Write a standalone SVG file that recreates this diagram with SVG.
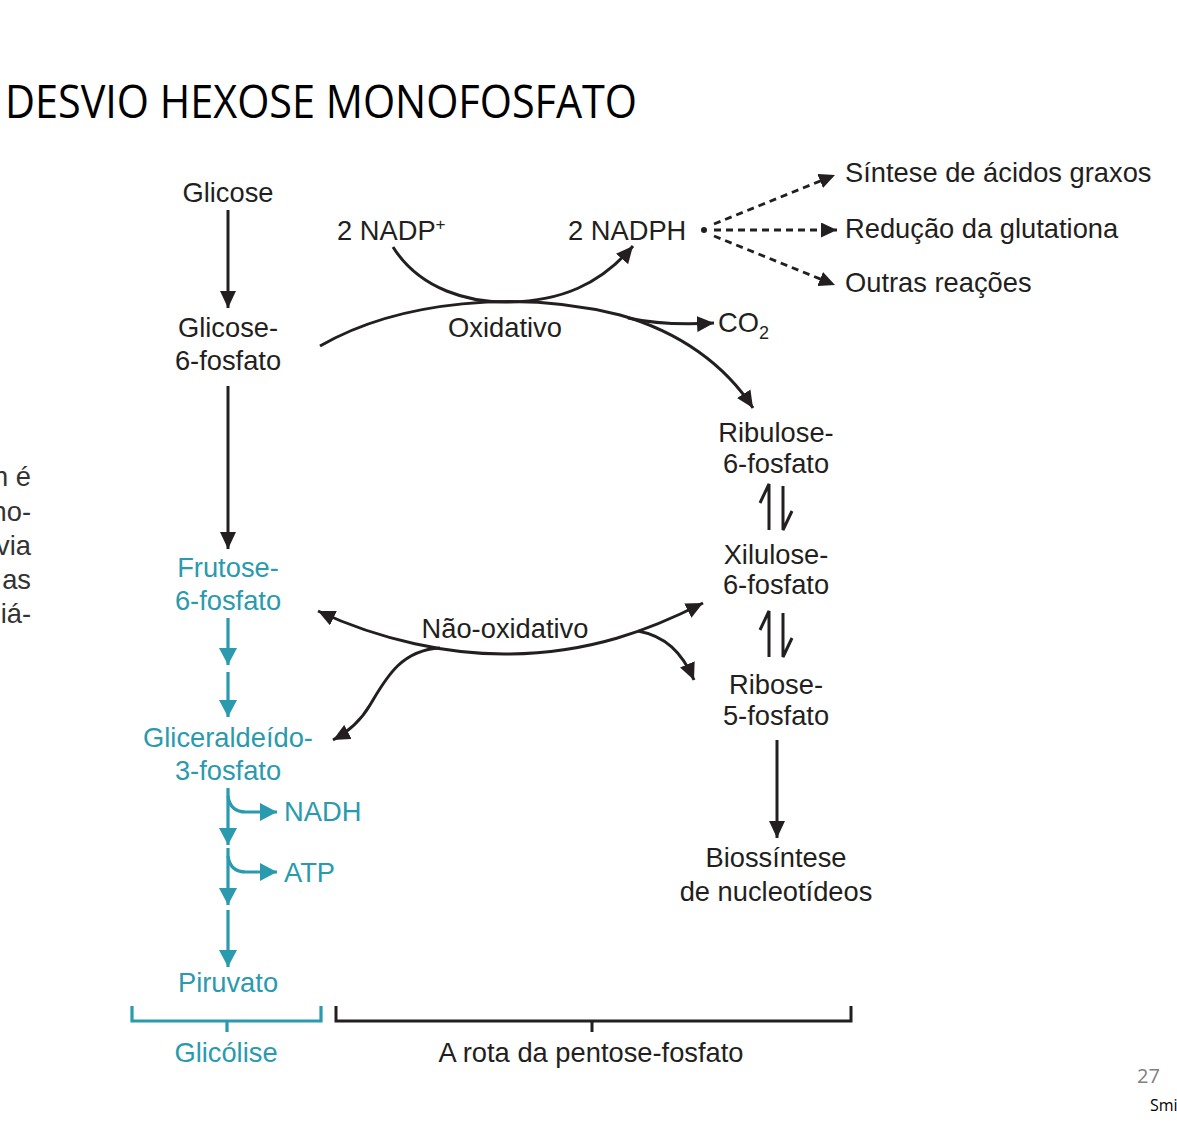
<svg xmlns="http://www.w3.org/2000/svg" width="1177" height="1137" viewBox="0 0 1177 1137">
<style>
text{font-family:"Liberation Sans",Arial,sans-serif;font-size:27.3px;fill:#231f20}
.t{fill:#2a9aae}
.c{text-anchor:middle}
.k{fill:none;stroke:#231f20;stroke-width:3}
.g{fill:none;stroke:#2a9aae;stroke-width:3.2}
.d{fill:none;stroke:#231f20;stroke-width:2.8;stroke-dasharray:7 5}
</style>
<defs>
<marker id="ab" markerUnits="userSpaceOnUse" markerWidth="18" markerHeight="16" refX="17" refY="8" orient="auto-start-reverse"><path d="M0,0 L17,8 L0,16 z" fill="#231f20"/></marker>
<marker id="ad" markerUnits="userSpaceOnUse" markerWidth="17" markerHeight="15" refX="16" refY="7.5" orient="auto"><path d="M0,0 L16,7.5 L0,15 z" fill="#231f20"/></marker>
<marker id="at" markerUnits="userSpaceOnUse" markerWidth="18" markerHeight="18" refX="17" refY="9" orient="auto"><path d="M0,0 L17,9 L0,18 z" fill="#2a9aae"/></marker>
</defs>
<rect width="1177" height="1137" fill="#fff"/>
<text x="5" y="118" textLength="632" lengthAdjust="spacingAndGlyphs" style="font-family:'Open Sans','Noto Sans',sans-serif;font-size:46px;fill:#000">DESVIO HEXOSE MONOFOSFATO</text>
<g id="sidetext" style="text-anchor:end">
<text x="31" y="486" style="fill:#333">n é</text>
<text x="31" y="521" style="fill:#333">no-</text>
<text x="31" y="555" style="fill:#333">via</text>
<text x="31" y="589" style="fill:#333">as</text>
<text x="31" y="623" style="fill:#333">iá-</text>
</g>
<g id="connectors">
<path class="k" d="M228,210 L228,308" marker-end="url(#ab)"/>
<path class="k" d="M228,386 L228,549" marker-end="url(#ab)"/>
<path class="k" d="M320,346 C400,300 520,290 620,315 C680,332 725,365 753,408" marker-end="url(#ab)"/>
<path class="k" d="M628,318 Q665,326 714,323" marker-end="url(#ab)"/>
<path class="k" d="M393,247 C420,290 470,303 510,302 C560,301 600,285 633,246" marker-end="url(#ab)"/>
<circle cx="704" cy="230" r="3" fill="#231f20"/>
<path class="d" d="M714,224 L835,175" marker-end="url(#ad)"/>
<path class="d" d="M714,230 L837,230" marker-end="url(#ad)"/>
<path class="d" d="M714,236 L835,285" marker-end="url(#ad)"/>
<path class="k" d="M318,611 C380,640 450,655 510,654 C590,653 650,630 703,603" marker-start="url(#ab)" marker-end="url(#ab)"/>
<path class="k" d="M440,648 C400,650 385,680 370,705 C360,722 348,732 333,740" marker-end="url(#ab)"/>
<path class="k" d="M638,631 C665,636 682,652 694,680" marker-end="url(#ab)"/>
<path class="k" d="M769,530 L769,484 L760,503" stroke-width="2.4"/>
<path class="k" d="M783,486 L783,530 L792,511" stroke-width="2.4"/>
<path class="k" d="M769,657 L769,611 L760,630" stroke-width="2.4"/>
<path class="k" d="M783,613 L783,657 L792,638" stroke-width="2.4"/>
<path class="k" d="M777,740 L777,838" marker-end="url(#ab)"/>
<path class="g" d="M228,618 L228,665" marker-end="url(#at)"/>
<path class="g" d="M228,672 L228,717" marker-end="url(#at)"/>
<path class="g" d="M228,788 L228,845" marker-end="url(#at)"/>
<path class="g" d="M228,796 Q230,812 246,812 L277,812" marker-end="url(#at)"/>
<path class="g" d="M228,848 L228,905" marker-end="url(#at)"/>
<path class="g" d="M228,856 Q230,872 246,872 L277,872" marker-end="url(#at)"/>
<path class="g" d="M228,910 L228,967" marker-end="url(#at)"/>
<path class="g" d="M132,1006 L132,1021 L321,1021 L321,1006 M227,1021 L227,1032" stroke-width="2"/>
<path class="k" d="M336,1006 L336,1021 L851,1021 L851,1006 M592,1021 L592,1032" stroke-width="2"/>
</g>
<g id="glicose"><text class="c" x="228" y="202">Glicose</text></g>
<g id="nadp"><text x="337" y="240">2 NADP<tspan font-size="17" dy="-10">+</tspan></text></g>
<g id="nadph"><text x="568" y="240">2 NADPH</text></g>
<g id="sintese"><text x="845" y="182">Síntese de ácidos graxos</text></g>
<g id="reducao"><text x="845" y="238">Redução da glutationa</text></g>
<g id="outras"><text x="845" y="292">Outras reações</text></g>
<g id="g6p"><text class="c" x="228" y="337">Glicose-</text><text class="c" x="228" y="370">6-fosfato</text></g>
<g id="oxidativo"><text class="c" x="505" y="337">Oxidativo</text></g>
<g id="co2"><text x="718" y="332">CO<tspan font-size="18" dy="7">2</tspan></text></g>
<g id="ribulose"><text class="c" x="776" y="442">Ribulose-</text><text class="c" x="776" y="473">6-fosfato</text></g>
<g id="xilulose"><text class="c" x="776" y="564">Xilulose-</text><text class="c" x="776" y="594">6-fosfato</text></g>
<g id="ribose"><text class="c" x="776" y="694">Ribose-</text><text class="c" x="776" y="725">5-fosfato</text></g>
<g id="biossintese"><text class="c" x="776" y="867">Biossíntese</text><text class="c" x="776" y="901">de nucleotídeos</text></g>
<g id="f6p"><text class="c t" x="228" y="577">Frutose-</text><text class="c t" x="228" y="610">6-fosfato</text></g>
<g id="naooxidativo"><text class="c" x="505" y="638">Não-oxidativo</text></g>
<g id="g3p"><text class="c t" x="228" y="747">Gliceraldeído-</text><text class="c t" x="228" y="780">3-fosfato</text></g>
<g id="nadh"><text class="t" x="284" y="821">NADH</text></g>
<g id="atp"><text class="t" x="284" y="882">ATP</text></g>
<g id="piruvato"><text class="c t" x="228" y="992">Piruvato</text></g>
<g id="glicolise"><text class="c t" x="226" y="1062">Glicólise</text></g>
<g id="rota"><text class="c" x="591" y="1062">A rota da pentose-fosfato</text></g>
<text x="1137" y="1083" style="font-family:'Open Sans','Noto Sans',sans-serif;font-size:20px;fill:#7f7f7f">27</text>
<text x="1150" y="1111" style="font-family:'Open Sans','Noto Sans',sans-serif;font-size:16px;fill:#000">Smi</text>
</svg>
